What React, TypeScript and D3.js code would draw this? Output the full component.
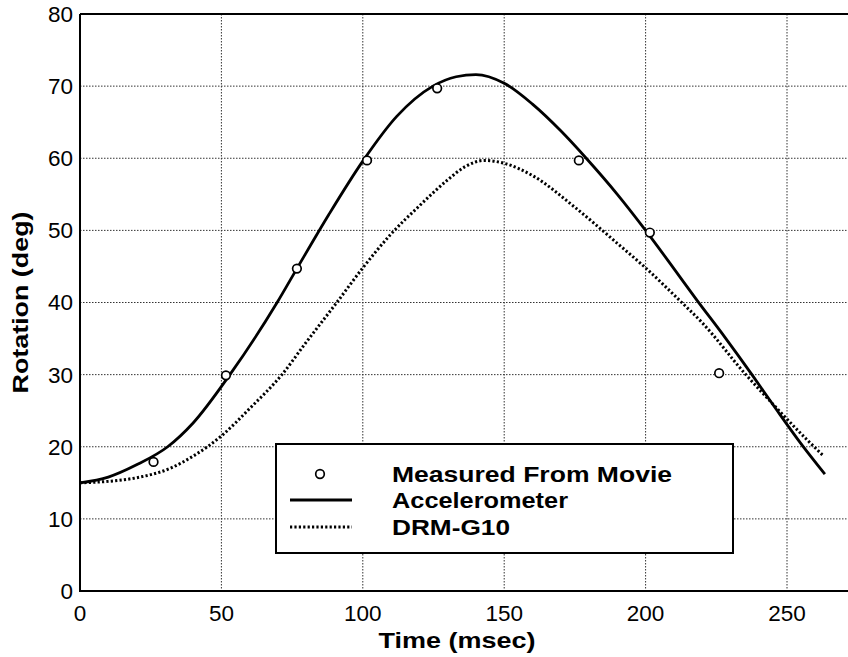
import React from "react";
import * as d3 from "d3";

// Tick values
const xTicks = [0, 50, 100, 150, 200, 250];
const yTicks = [0, 10, 20, 30, 40, 50, 60, 70, 80];

// Rotation measured from the film, frame by frame
const movieT = [26, 51.6, 76.7, 101.5, 126.3, 176.4, 201.5, 226];
const movieRot = [17.9, 29.9, 44.7, 59.7, 69.7, 59.7, 49.7, 30.2];

// Rotation integrated from the accelerometer
const accelT = [0, 10, 20, 31, 40, 53, 69.7, 76.7, 88, 100, 112, 124.8, 133, 140, 150, 160, 170, 179, 190, 200, 210, 218, 228, 237.6, 246, 255, 263.4];
const accelRot = [15, 15.8, 17.5, 20, 23.3, 30, 40, 44.7, 52.2, 59.6, 65.8, 70, 71.3, 71.6, 70.4, 67.5, 63.8, 60, 55, 50, 44.7, 40.4, 35.2, 30, 25.3, 20.4, 16.2];

// DRM-G10 model prediction
const drmT = [0, 10, 20, 31.8, 40, 50, 60, 71.4, 80, 90.8, 100, 110, 120, 130, 136, 143, 150, 160, 175, 190, 200, 212, 220, 235, 246, 257, 263];
const drmRot = [15, 15.2, 15.7, 17, 18.7, 21.5, 25.3, 30, 34.5, 40, 44.8, 49.5, 53.4, 57, 58.8, 59.7, 59.3, 57.6, 53.2, 48.2, 44.8, 40.3, 37.2, 30.2, 25.5, 21, 18.7];

const legendLabels = ["Measured From Movie", "Accelerometer", "DRM-G10"];
const legendWidths = [280, 176, 118];

const W = 848;
const H = 657;
const left = 80;
const top = 14;
const bottom = 591;

export default function App() {
  const x = d3.scaleLinear().domain([0, 300]).range([left, left + 300 * 2.828]);
  const y = d3.scaleLinear().domain([0, 80]).range([bottom, top]);

  const line = d3
    .line<[number, number]>()
    .x((d) => x(d[0]))
    .y((d) => y(d[1]))
    .curve(d3.curveMonotoneX);

  const accel: [number, number][] = accelT.map((t, i) => [t, accelRot[i]]);
  const drm: [number, number][] = drmT.map((t, i) => [t, drmRot[i]]);

  const font = "Liberation Sans, Arial, sans-serif";
  const lgX = 276, lgY = 444, lgW = 457, lgH = 109;
  const rowY = [474, 500, 527];

  return (
    <svg width={W} height={H} style={{ position: "absolute", left: 0, top: 0, background: "#fff" }} fontFamily={font}>
      <rect x={0} y={0} width={W} height={H} fill="#fff" />
      {/* grid */}
      <g stroke="#333" strokeWidth={1} strokeDasharray="1.5 1.5">
        {xTicks.filter((t) => t > 0).map((t) => (
          <line key={"gx" + t} x1={x(t)} x2={x(t)} y1={top} y2={bottom} />
        ))}
        {yTicks.filter((t) => t > 0 && t < 80).map((t) => (
          <line key={"gy" + t} x1={left} x2={W} y1={y(t)} y2={y(t)} />
        ))}
      </g>
      {/* frame */}
      <g stroke="#000" strokeWidth={2} fill="none">
        <line x1={left} x2={left} y1={top} y2={bottom + 1} />
        <line x1={left} x2={W} y1={top} y2={top} />
        <line x1={left - 1} x2={W} y1={bottom} y2={bottom} />
      </g>
      {/* curves */}
      <path d={line(drm) || ""} fill="none" stroke="#000" strokeWidth={3} strokeDasharray="2.2 2.2" />
      <path d={line(accel) || ""} fill="none" stroke="#000" strokeWidth={2.8} />
      {movieT.map((t, i) => (
        <circle key={"m" + i} cx={x(t)} cy={y(movieRot[i])} r={4.3} fill="#fff" stroke="#000" strokeWidth={1.7} />
      ))}
      {/* tick labels */}
      <g fontSize={22.5} fill="#000">
        {yTicks.map((t) => (
          <text key={"yl" + t} x={73} y={y(t)} dy="0.35em" textAnchor="end">
            {t}
          </text>
        ))}
        {xTicks.map((t) => (
          <text key={"xl" + t} x={x(t)} y={621} textAnchor="middle">
            {t}
          </text>
        ))}
      </g>
      <text x={457} y={648} textAnchor="middle" fontSize={21.5} fontWeight="bold" textLength={157} lengthAdjust="spacingAndGlyphs">
        Time (msec)
      </text>
      <text
        transform={`translate(28,${(top + bottom) / 2}) rotate(-90)`}
        textAnchor="middle"
        fontSize={21.5}
        fontWeight="bold"
        textLength={182}
        lengthAdjust="spacingAndGlyphs"
      >
        Rotation (deg)
      </text>
      {/* legend */}
      <rect x={lgX} y={lgY} width={lgW} height={lgH} fill="#fff" stroke="#000" strokeWidth={2} />
      <circle cx={320} cy={rowY[0]} r={4.3} fill="#fff" stroke="#000" strokeWidth={1.7} />
      <line x1={290} x2={352} y1={rowY[1]} y2={rowY[1]} stroke="#000" strokeWidth={2.8} />
      <line x1={290} x2={352} y1={rowY[2]} y2={rowY[2]} stroke="#000" strokeWidth={3} strokeDasharray="2.2 2.2" />
      <g fontSize={21.5} fontWeight="bold">
        {legendLabels.map((s, i) => (
          <text key={s} x={392} y={rowY[i]} dy="0.36em" textLength={legendWidths[i]} lengthAdjust="spacingAndGlyphs">
            {s}
          </text>
        ))}
      </g>
    </svg>
  );
}
